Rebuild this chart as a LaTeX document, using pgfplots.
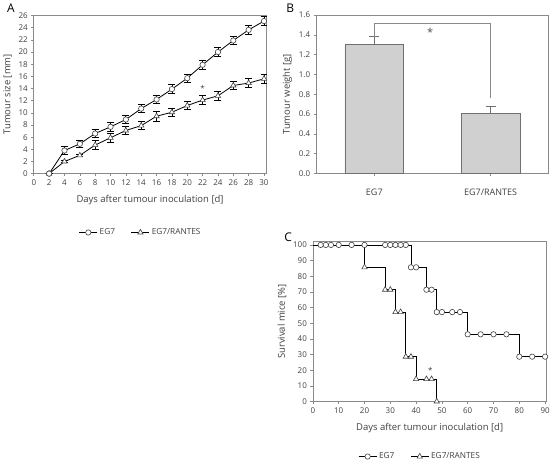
\documentclass[border=0pt]{standalone}
\usepackage{fontspec}
\setmainfont{Open Sans}
\usepackage{pgfplots}
\pgfplotsset{compat=1.18}
\definecolor{axgray}{HTML}{8A8A8A}
\definecolor{txtgray}{HTML}{404040}
\definecolor{barfill}{HTML}{D0D0D0}
\definecolor{barline}{HTML}{707070}
\pgfplotsset{
  common/.style={
    scale only axis,
    anchor=south west,
    width=233pt, height=159pt,
    axis line style={axgray, line width=0.6pt},
    tick style={axgray, line width=0.6pt},
    tick align=outside,
    tick pos=left,
    major tick length=2.5pt,
    font=\fontsize{8}{9}\selectfont,
    every tick label/.append style={text=txtgray, font=\fontsize{8}{9}\selectfont},
    label style={text=txtgray, font=\fontsize{9.5}{10}\selectfont},
    xlabel style={yshift=-3pt},
    /pgf/number format/assume math mode=true,
    legend style={draw=none, fill=none, font=\fontsize{8.3}{9}\selectfont, text=txtgray,
      legend columns=2, /tikz/every even column/.append style={column sep=14pt}},
    legend image code/.code={\draw[mark repeat=2,mark phase=2,#1] plot coordinates {(0pt,0pt) (9pt,0pt) (18pt,0pt)};},
  },
  circ/.style={black, line width=0.8pt, mark=*, mark size=2.7pt, mark options={fill=white, draw=black!75, line width=0.6pt}},
  tri/.style={black, line width=0.8pt, mark=triangle*, mark size=3.1pt, mark options={fill=white, draw=black!75, line width=0.6pt}},
}
\begin{document}
\begin{tikzpicture}
\path (0,0) rectangle (553pt,460pt);
\node[font=\fontsize{12}{12}\selectfont, text=black] at (10pt,452pt) {A};
\node[font=\fontsize{12}{12}\selectfont, text=black] at (290pt,452pt) {B};
\node[font=\fontsize{12}{12}\selectfont, text=black] at (288pt,222pt) {C};
% Panel A
\begin{axis}[common, at={(33pt,286pt)},
  xmin=0, xmax=30.3, ymin=0, ymax=26.1,
  xtick={0,2,...,30}, ytick={0,2,...,26},
  clip=false,
  xlabel={Days after tumour inoculation [d]},
  ylabel={Tumour size [mm]},
  legend style={at={(0.46,-0.371)}, anchor=center},
  error bars/error mark options={black, mark size=3.5pt, line width=0.8pt, rotate=90},
]
\addplot[circ, error bars/.cd, y dir=both, y explicit, error bar style={black, line width=0.8pt}] coordinates {
 (2,0) +- (0,0)
 (4,3.8) +- (0,0.7)
 (6,4.9) +- (0,0.6)
 (8,6.6) +- (0,0.7)
 (10,7.7) +- (0,0.7)
 (12,8.9) +- (0,0.7)
 (14,10.7) +- (0,0.7)
 (16,12.2) +- (0,0.7)
 (18,13.9) +- (0,0.7)
 (20,15.7) +- (0,0.7)
 (22,17.9) +- (0,0.7)
 (24,20.0) +- (0,0.7)
 (26,21.9) +- (0,0.7)
 (28,23.65) +- (0,0.7)
 (30,25.1) +- (0,0.7)
};
\addlegendentry{EG7}
\addplot[tri, error bars/.cd, y dir=both, y explicit, error bar style={black, line width=0.8pt}] coordinates {
 (2,0) +- (0,0)
 (4,2.0) +- (0,0.1)
 (6,3.0) +- (0,0.2)
 (8,4.7) +- (0,0.7)
 (10,5.9) +- (0,0.7)
 (12,7.1) +- (0,0.7)
 (14,7.9) +- (0,0.7)
 (16,9.45) +- (0,0.8)
 (18,10.1) +- (0,0.7)
 (20,11.2) +- (0,0.7)
 (22,12.1) +- (0,0.7)
 (24,12.8) +- (0,0.7)
 (26,14.5) +- (0,0.7)
 (28,14.9) +- (0,0.7)
 (30,15.6) +- (0,0.7)
};
\addlegendentry{EG7/RANTES}
\addplot[circ, forget plot, only marks] coordinates {(2,0)};
\node[text=txtgray, font=\fontsize{8}{8}\selectfont] at (axis cs:22,14.0) {*};
\end{axis}
% Panel B
\begin{axis}[common, at={(316pt,286pt)},
  xmin=-0.5, xmax=1.5, ymin=0, ymax=1.6,
  xtick={0,1}, xticklabels={EG7, EG7/RANTES},
  xticklabel style={yshift=-9pt, font=\fontsize{9}{10}\selectfont},
  ytick={0,0.2,...,1.6},
  yticklabel style={/pgf/number format/.cd, fixed, fixed zerofill, precision=1},
  ylabel={Tumour weight [g]},
]
\addplot[ybar, bar width=59pt, fill=barfill, draw=barline, line width=0.7pt,
  error bars/.cd, y dir=plus, y explicit,
  error bar style={barline, line width=0.8pt},
  error mark options={barline, mark size=5pt, line width=0.8pt, rotate=90}]
  coordinates {(0,1.30) +- (0,0.08) (1,0.61) +- (0,0.07)};
\addplot[axgray, line width=0.8pt] coordinates {(0,1.38) (0,1.51) (1,1.51) (1,0.76)};
\node[text=black!70, font=\fontsize{11}{11}\selectfont] at (axis cs:0.48,1.42) {*};
\end{axis}
% Panel C
\begin{axis}[common, at={(312.7pt,57.7pt)}, width=234pt, height=160pt,
  xmin=0, xmax=90.5, ymin=0, ymax=102,
  xtick={0,10,...,90}, ytick={0,10,...,100},
  clip=false,
  xlabel={Days after tumour inoculation [d]},
  ylabel={Survival mice [\%]},
  legend style={at={(0.459,-0.345)}, anchor=center},
]
\addplot[black, line width=0.8pt, const plot, forget plot] coordinates {
 (0,100) (38,85.7) (44,71.4) (48,57.1) (60,42.9) (80,28.6) (90,28.6)};
\addplot[black, line width=0.8pt, const plot, forget plot] coordinates {
 (0,100) (20,85.7) (28,71.4) (32,57.1) (36,28.6) (40,14.3) (48,0) (48,0)};
\addplot[circ, only marks, forget plot] coordinates {
 (3,100) (5,100) (7,100) (10,100) (15,100) (20,100) (28,100) (30,100) (32,100) (34,100) (36,100)
 (38,85.7) (40,85.7) (44,71.4) (46,71.4) (48,57.1) (50,57.1) (54,57.1) (57,57.1)
 (60,42.9) (65,42.9) (70,42.9) (75,42.9) (80,28.6) (85,28.6) (90,28.6)};
\addplot[tri, only marks, forget plot] coordinates {
 (20,85.7) (28,71.4) (30,71.4) (32,57.1) (34,57.1) (36,28.6) (38,28.6)
 (40,14.3) (44,14.3) (46,14.3) (48,0)};
\addlegendimage{circ}
\addlegendentry{EG7}
\addlegendimage{tri}
\addlegendentry{EG7/RANTES}
\node[text=txtgray, font=\fontsize{8}{8}\selectfont] at (axis cs:45.5,20) {*};
\end{axis}
\end{tikzpicture}
\end{document}
